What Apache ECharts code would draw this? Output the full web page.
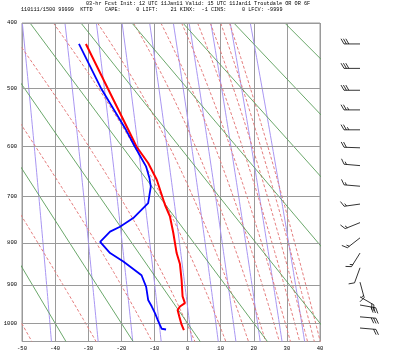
<!DOCTYPE html>
<html><head><meta charset="utf-8">
<script src="https://cdn.jsdelivr.net/npm/echarts@6/dist/echarts.min.js"></script>
<style>html,body{margin:0;padding:0;background:#fff}#c{width:400px;height:356px}</style>
</head><body><div id="c"></div>
<script>
// ---- data ----
const titleLine1 = "03-hr Fcst Init: 12 UTC 11Jan11 Valid: 15 UTC 11Jan11 Troutdale OR OR 6F";
const titleLine2 = "110111/1500 99999  KTTD    CAPE:     0 LIFT:    21 KINX:  -1 CINS:     0 LFCV: -9999";
const pressureTicks = [400, 500, 600, 700, 800, 900, 1000];
const tempTicks = [-50, -40, -30, -20, -10, 0, 10, 20, 30, 40];

const tempP = [430, 500, 570, 601, 632, 665, 717, 742, 778, 824, 850, 889, 930, 947, 956, 965, 982, 1004, 1019];
const tempT = [-30.7, -24.0, -17.9, -15.4, -11.9, -9.3, -6.8, -5.3, -4.3, -3.3, -2.3, -1.8, -1.5, -0.8, -2.3, -3.0, -2.5, -1.8, -1.1];

const dewP = [430, 500, 570, 601, 639, 662, 679, 713, 717, 745, 764, 775, 798, 824, 844, 877, 906, 939, 956, 974, 996, 1015, 1017];
const dewT = [-32.8, -26.0, -18.6, -15.9, -12.5, -11.5, -11.1, -11.9, -12.5, -16.4, -20.4, -23.4, -26.4, -23.4, -19.4, -13.9, -12.5, -11.9, -10.8, -9.8, -8.8, -7.8, -6.5];

const windP = [430, 467, 502, 535, 570, 603, 637, 678, 715, 755, 789, 824, 859, 894, 931, 952, 983, 1013];
const windDir = [270, 270, 270, 270, 270, 272, 275, 275, 262, 248, 232, 212, 200, 165, 120, 100, 95, 95];
const windSpd = [30, 30, 30, 25, 25, 20, 15, 15, 15, 15, 15, 15, 10, 15, 20, 30, 30, 20];

// background reference lines (diagram coordinate system)
const dryAdiabatsC = [-40, -20, 0, 20, 40, 60, 80, 100, 120];
const thetaELinesC = [-50, -30, -10, 10, 30, 50, 70, 90, 110, 130, 150, 170, 190];
const mixRatios = [0.1, 0.4, 1, 2, 4, 7, 10, 16, 24, 36];

// ---- diagram physics ----
const KAPPA = 0.286;
const PTOP = 400, PBOT = 1050;
function pk(p) { return Math.pow(p, KAPPA); }
function es(Tc) { return 6.112 * Math.exp(17.67 * Tc / (Tc + 243.5)); }
function thetaESat(Tc, p) {
  const T = Tc + 273.15, e = es(Tc);
  if (e >= p * 0.9) return Infinity;
  const r = 622 * e / (p - e);
  const th = T * Math.pow(1000 / p, 0.2854 * (1 - 0.00028 * r));
  return th * Math.exp((3.376 / T - 0.00254) * r * (1 + 0.00081 * r));
}
function tempForThetaE(target, p) {
  let lo = -120, hi = 60;
  if (thetaESat(hi, p) < target) return null;
  for (let i = 0; i < 60; i++) {
    const m = (lo + hi) / 2;
    if (thetaESat(m, p) < target) lo = m; else hi = m;
  }
  return (lo + hi) / 2;
}
function tdForMix(w, p) {
  const e = w * p / (622 + w);
  const L = Math.log(e / 6.112);
  return 243.5 * L / (17.67 - L);
}
const bgPress = [];
for (let p = PTOP; p <= PBOT; p += 10) bgPress.push(p);

const series = [];
const thin = { silent: true, showSymbol: false, symbol: 'none', animation: false, clip: true, xAxisIndex: 0, yAxisIndex: 0 };

mixRatios.forEach(w => {
  series.push(Object.assign({ type: 'line', z: 1,
    data: bgPress.map(p => [tdForMix(w, p), pk(p)]),
    lineStyle: { color: '#a996f2', width: 1 } }, thin));
});
thetaELinesC.forEach(tc => {
  const d = [];
  bgPress.forEach(p => { const t = tempForThetaE(tc + 273.15, p); if (t !== null) d.push([t, pk(p)]); });
  series.push(Object.assign({ type: 'line', z: 1, data: d,
    lineStyle: { color: '#e47c7c', width: 1, type: [3, 2] } }, thin));
});
dryAdiabatsC.forEach(tc => {
  series.push(Object.assign({ type: 'line', z: 2,
    data: [PTOP, PBOT].map(p => [(tc + 273.15) * Math.pow(p / 1000, KAPPA) - 273.15, pk(p)]),
    lineStyle: { color: '#5a9e5a', width: 0.9 } }, thin));
});
// horizontal pressure gridlines
series.push(Object.assign({ type: 'line', z: 3, data: [],
  markLine: { silent: true, symbol: 'none', animation: false, label: { show: false },
    lineStyle: { color: '#9a9a9a', width: 1, type: 'solid' },
    data: pressureTicks.map(p => ({ yAxis: pk(p) })) } }, thin));

series.push({ type: 'line', name: 'Temperature', z: 5, showSymbol: false, symbol: 'none', animation: false,
  data: tempP.map((p, i) => [tempT[i], pk(p)]), lineStyle: { color: '#ff0000', width: 2 } });
series.push({ type: 'line', name: 'Dewpoint', z: 5, showSymbol: false, symbol: 'none', animation: false,
  data: dewP.map((p, i) => [dewT[i], pk(p)]), lineStyle: { color: '#0000ff', width: 1.8 } });

// wind barbs
series.push({
  type: 'custom', xAxisIndex: 1, yAxisIndex: 1, animation: false, silent: true, z: 5,
  data: windP.map((p, i) => [0.5, pk(p), windDir[i], windSpd[i]]),
  renderItem: function (params, api) {
    const pt = api.coord([api.value(0), api.value(1)]);
    const dir = api.value(2) * Math.PI / 180, spd = api.value(3);
    const L = 16, F = 6, step = 2.4;
    const ux = Math.sin(dir), uy = -Math.cos(dir);
    const ex = pt[0] + ux * L, ey = pt[1] + uy * L;
    const a = 60 * Math.PI / 180;
    const fx = ux * Math.cos(a) - uy * Math.sin(a), fy = ux * Math.sin(a) + uy * Math.cos(a);
    const style = { stroke: '#000', lineWidth: 0.8, fill: null };
    const ch = [{ type: 'line', shape: { x1: pt[0], y1: pt[1], x2: ex, y2: ey }, style: style }];
    let s = Math.round(spd / 5) * 5, pos = 0;
    while (s >= 10) {
      const bx = ex - ux * pos, by = ey - uy * pos;
      ch.push({ type: 'line', shape: { x1: bx, y1: by, x2: bx + fx * F, y2: by + fy * F }, style: style });
      s -= 10; pos += step;
    }
    if (s >= 5) {
      if (pos === 0) pos = step;
      const bx = ex - ux * pos, by = ey - uy * pos;
      ch.push({ type: 'line', shape: { x1: bx, y1: by, x2: bx + fx * F / 2, y2: by + fy * F / 2 }, style: style });
    }
    return { type: 'group', children: ch };
  }
});

const fontFam = 'Liberation Mono, DejaVu Sans Mono, monospace';
const option = {
  backgroundColor: '#fff',
  animation: false,
  title: [
    { text: titleLine1, left: 86, top: 1, padding: 0, textStyle: { fontFamily: fontFam, fontSize: 5.2, fontWeight: 'normal', color: '#000' } },
    { text: titleLine2, left: 21, top: 7, padding: 0, textStyle: { fontFamily: fontFam, fontSize: 5.2, fontWeight: 'normal', color: '#000' } }
  ],
  grid: [
    { left: 22, top: 23, width: 298, height: 318.5, show: true, borderColor: '#9a9a9a', borderWidth: 1, backgroundColor: 'transparent' },
    { left: 340, top: 23, width: 40, height: 318.5, show: false }
  ],
  xAxis: [
    { type: 'value', gridIndex: 0, min: -50, max: 40, interval: 10,
      axisLine: { show: false }, axisTick: { show: false },
      axisLabel: { fontFamily: fontFam, fontSize: 5.5, color: '#000', margin: 4 },
      splitLine: { show: true, lineStyle: { color: '#9a9a9a', width: 1 } } },
    { type: 'value', gridIndex: 1, min: 0, max: 1, show: false }
  ],
  yAxis: [
    { type: 'value', gridIndex: 0, inverse: true, min: pk(PTOP), max: pk(PBOT),
      axisLine: { show: false }, axisTick: { show: false, customValues: pressureTicks.map(pk) },
      splitLine: { show: false },
      axisLabel: { customValues: pressureTicks.map(pk), fontFamily: fontFam, fontSize: 5.5, color: '#000', margin: 5,
        formatter: v => String(Math.round(Math.pow(v, 1 / KAPPA))) } },
    { type: 'value', gridIndex: 1, inverse: true, min: pk(PTOP), max: pk(PBOT), show: false }
  ],
  series: series
};
const chart = echarts.init(document.getElementById('c'), null, { renderer: 'canvas' });
chart.setOption(option);
</script></body></html>
